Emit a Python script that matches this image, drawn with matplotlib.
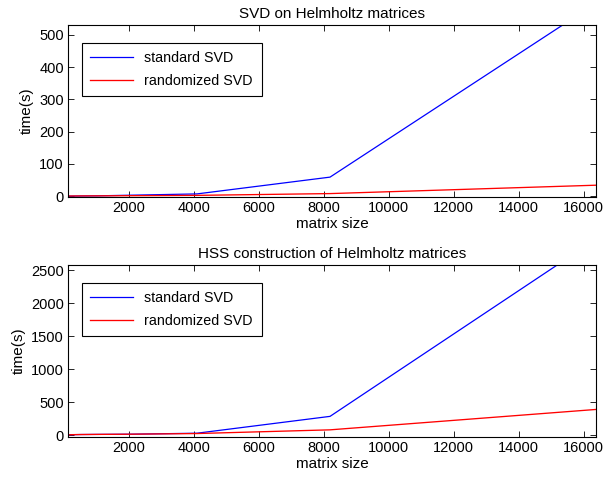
import matplotlib.pyplot as plt

plt.rcParams.update({
    "font.family": ["Liberation Sans", "DejaVu Sans"],
    "font.size": 11,
    "xtick.labelsize": 10.5,
    "ytick.labelsize": 10.5,
    "xtick.direction": "in",
    "ytick.direction": "in",
    "xtick.top": True,
    "ytick.right": True,
    "axes.linewidth": 0.8,
})

# matrix sizes
sizes = [128, 256, 512, 1024, 2048, 4096, 8192, 16384]

# SVD on Helmholtz matrices (seconds)
svd_standard = [0.0, 0.1, 0.5, 1.0, 3.0, 7.0, 59.0, 598.0]
svd_random = [0.5, 0.6, 0.8, 1.0, 1.5, 2.5, 8.0, 34.0]

# HSS construction (seconds)
hss_standard = [5, 8, 10, 12, 15, 30, 285, 2970]
hss_random = [5, 8, 10, 12, 15, 25, 81, 390]

xticks = [2000, 4000, 6000, 8000, 10000, 12000, 14000, 16000]

fig = plt.figure(figsize=(6.04, 4.82), dpi=100)
ax1 = fig.add_axes([0.1126, 0.591, 0.8745, 0.357])
ax2 = fig.add_axes([0.1126, 0.093, 0.8745, 0.357])

panels = [
    (ax1, svd_standard, svd_random, "SVD on Helmholtz matrices",
     (-3, 530), [0, 100, 200, 300, 400, 500]),
    (ax2, hss_standard, hss_random, "HSS construction of Helmholtz matrices",
     (-30, 2575), [0, 500, 1000, 1500, 2000, 2500]),
]

for ax, std, rnd, title, ylim, yticks in panels:
    ax.plot(sizes, std, color="blue", lw=0.9, label="standard SVD")
    ax.plot(sizes, rnd, color="red", lw=0.95, label="randomized SVD")
    ax.set_xlim(128, 16384)
    ax.set_ylim(*ylim)
    ax.set_xticks(xticks)
    ax.set_yticks(yticks)
    ax.set_title(title, fontsize=11, pad=5)
    ax.set_xlabel("matrix size", labelpad=1)
    ax.set_ylabel("time(s)")
    ax.tick_params(length=4, width=0.6, pad=3)
    leg = ax.legend(loc="upper left", bbox_to_anchor=(0.012, 0.94), fancybox=False,
                    edgecolor="black", framealpha=1, borderpad=0.6,
                    handlelength=3.0, labelspacing=0.6, fontsize=10.3)
    leg.get_frame().set_linewidth(0.8)

plt.savefig("out.png", dpi=100)
